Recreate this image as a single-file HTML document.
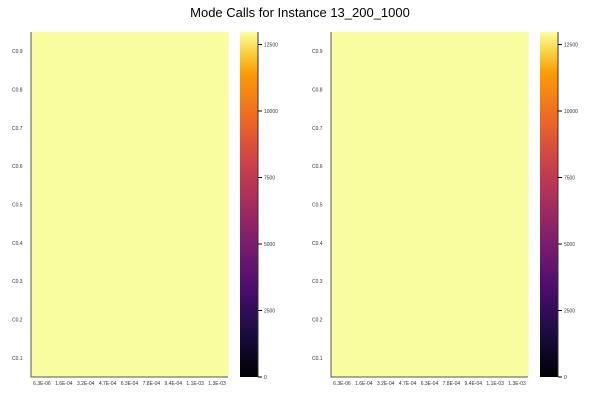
<!DOCTYPE html>
<html><head><meta charset="utf-8"><style>
body{margin:0;background:#fff;font-family:"Liberation Sans",sans-serif}
</style></head><body>
<svg id="chart" width="600" height="400" xmlns="http://www.w3.org/2000/svg">
<defs><linearGradient id="inf" x1="0" y1="1" x2="0" y2="0">
<stop offset="0" stop-color="#000004"/><stop offset="0.13" stop-color="#1b0c41"/><stop offset="0.25" stop-color="#4a0c6b"/><stop offset="0.38" stop-color="#781c6d"/><stop offset="0.5" stop-color="#a52c60"/><stop offset="0.63" stop-color="#cf4446"/><stop offset="0.75" stop-color="#ed6925"/><stop offset="0.88" stop-color="#fb9b06"/><stop offset="0.94" stop-color="#f7d13d"/><stop offset="1" stop-color="#fcffa4"/>
</linearGradient></defs>
<text x="300" y="17" text-anchor="middle" font-size="13" fill="#000">Mode Calls for Instance 13_200_1000</text>
</svg>
<script>
const xLabels=["6.3E-06","1.6E-04","3.2E-04","4.7E-04","6.3E-04","7.8E-04","9.4E-04","1.1E-03","1.3E-03"];
const yLabels=["C0.1","C0.2","C0.3","C0.4","C0.5","C0.6","C0.7","C0.8","C0.9"];
const cbTicks=[0,2500,5000,7500,10000,12500];
const cbMax=12970;
const valuesLeft=Array(81).fill(12970);
const valuesRight=Array(81).fill(12970);
const svg=document.getElementById('chart');
const NS='http://www.w3.org/2000/svg';
function mk(t,a){const e=document.createElementNS(NS,t);for(const k in a)e.setAttribute(k,a[k]);svg.appendChild(e);return e;}
function color(v){const t=Math.max(0,Math.min(1,v/cbMax));
const s=[[0,0,0,4],[.13,27,12,65],[.25,74,12,107],[.38,120,28,109],[.5,165,44,96],[.63,207,68,70],[.75,237,105,37],[.88,251,155,6],[.94,247,209,61],[1,250,252,160]];
for(let i=1;i<s.length;i++)if(t<=s[i][0]){const f=(t-s[i-1][0])/(s[i][0]-s[i-1][0]);return`rgb(${[1,2,3].map(j=>Math.round(s[i-1][j]+f*(s[i][j]-s[i-1][j]))).join(',')})`;}return'rgb(250,252,160)';}
function panel(ox,vals,idx){
 const L=ox+31,R=ox+228,T=32,B=377,n=9;
 const cw=(R-L)/n,ch=(B-T)/n;
 const xs=i=>L+i*cw, ys=j=>B-(j+1)*ch;
 for(let j=0;j<n;j++)for(let i=0;i<n;i++){
  const r=mk('rect',{x:xs(i),y:ys(j),width:cw+0.5,height:ch+0.5,fill:color(vals[j*n+i])});
  
  
 }
 const ax=mk('path',{d:`M${L},${T}V${B}H${R}`,stroke:'#555',fill:'none','stroke-width':1});
 
 
 xLabels.forEach((l,i)=>{const t=mk('text',{x:xs(i)+cw/2,y:385,'font-size':5,'text-anchor':'middle',fill:'#333'});t.textContent=l;
  
  });
 yLabels.forEach((l,j)=>{const t=mk('text',{x:L-19,y:ys(j)+ch/2+2,'font-size':5,fill:'#333'});t.textContent=l;
  
  });
 const cx=ox+240,cwid=18;
 const cb=mk('rect',{x:cx,y:T,width:cwid,height:B-T,fill:'url(#inf)'});
 
 
 mk('line',{x1:cx+cwid,y1:T,x2:cx+cwid,y2:B,stroke:'#333','stroke-width':1});
 cbTicks.forEach(v=>{const y=B-v/cbMax*(B-T);
  mk('line',{x1:cx+cwid,y1:y,x2:cx+cwid+4,y2:y,stroke:'#000','stroke-width':1});
  const t=mk('text',{x:cx+cwid+6,y:y+2,'font-size':5,fill:'#333'});t.textContent=v;
  
  });
}
panel(0,valuesLeft,'left');
panel(300,valuesRight,'right');
</script>
</body></html>
